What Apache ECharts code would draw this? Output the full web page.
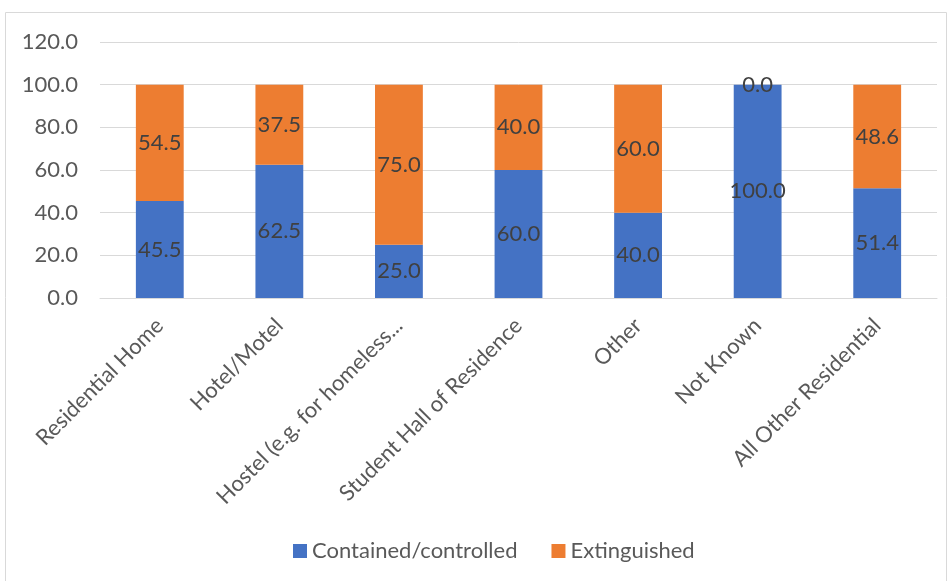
<!DOCTYPE html>
<html><head><meta charset="utf-8">
<script src="https://cdn.jsdelivr.net/npm/echarts@6/dist/echarts.min.js"></script>
<style>html,body{margin:0;padding:0;background:#fff}#c{width:952px;height:581px}</style>
</head><body><div id="c"></div>
<script>
const categories = ["Residential Home","Hotel/Motel","Hostel (e.g. for homeless...","Student Hall of Residence","Other","Not Known","All Other Residential"];
const contained = [45.5, 62.5, 25.0, 60.0, 40.0, 100.0, 51.4];
const extinguished = [54.5, 37.5, 75.0, 40.0, 60.0, 0.0, 48.6];
const seriesNames = ["Contained/controlled","Extinguished"];
const colors = ["#4472C4","#ED7D31"];
const font = "Lato, 'Open Sans', sans-serif";
const chart = echarts.init(document.getElementById('c'), null, {renderer:'canvas'});
const lbl = {show:true, position:'inside', color:'#404040', fontSize:22, fontFamily:font, formatter: p => p.value.toFixed(1)};
chart.setOption({
  animation:false,
  graphic:[{type:'rect', shape:{x:5.5,y:12.5,width:941,height:580}, style:{fill:'none', stroke:'#D9D9D9', lineWidth:1}, silent:true}],
  grid:{left:100, right:15, top:42, bottom:283, containLabel:false},
  legend:{top:535, left:288, itemWidth:14, itemHeight:14, itemGap:34, icon:'rect',
    textStyle:{color:'#595959', fontSize:22, fontFamily:font}, data:seriesNames},
  xAxis:{type:'category', data:categories,
    axisLine:{lineStyle:{color:'#D9D9D9'}}, axisTick:{show:false},
    axisLabel:{rotate:45, interval:0, color:'#595959', fontSize:22, fontFamily:font, margin:24}},
  yAxis:{type:'value', min:0, max:120, interval:20,
    axisLine:{show:false}, axisTick:{show:false},
    splitLine:{lineStyle:{color:'#D9D9D9', width:1}},
    axisLabel:{color:'#595959', fontSize:22, fontFamily:font, margin:22, formatter: v => v.toFixed(1)}},
  series:[
    {name:seriesNames[0], type:'bar', stack:'s', data:contained, barWidth:'40%', itemStyle:{color:colors[0]}, label:lbl},
    {name:seriesNames[1], type:'bar', stack:'s', data:extinguished, barWidth:'40%', itemStyle:{color:colors[1]}, label:lbl}
  ]
});
</script></body></html>
